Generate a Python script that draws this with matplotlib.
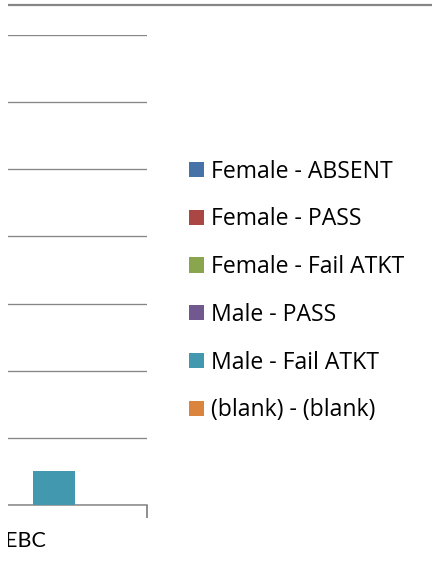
import matplotlib
matplotlib.use("Agg")
import matplotlib.pyplot as plt
import matplotlib.transforms as mtransforms
from matplotlib.lines import Line2D
from matplotlib.patches import Rectangle

categories = ['EBC']
series = ['Female - ABSENT', 'Female - PASS', 'Female - Fail ATKT',
          'Male - PASS', 'Male - Fail ATKT', '(blank) - (blank)']
values = {
    'Female - ABSENT': [0],
    'Female - PASS': [0],
    'Female - Fail ATKT': [0],
    'Male - PASS': [0],
    'Male - Fail ATKT': [1],
    '(blank) - (blank)': [0],
}
colors = ['#4572A7', '#AA4643', '#89A54E', '#71588F', '#4198AF', '#DB843D']

plt.rcParams['font.family'] = ['Lato', 'DejaVu Sans']

W, H = 432, 571
fig = plt.figure(figsize=(W / 100, H / 100), dpi=100)

# plot area: right edge at 147px, bottom 505px, top 35px, one category 312px wide
cat_w = 312
ax = fig.add_axes([(147 - cat_w) / W, (H - 505) / H, cat_w / W, 470 / H])

bw = 42 / cat_w
handles = []
for i, s in enumerate(series):
    xs = [k + (i - 2.5) * bw for k in range(len(categories))]
    b = ax.bar(xs, values[s], width=bw, color=colors[i], label=s, zorder=3)
    handles.append(b)

ax.set_xlim(-0.5, 0.5)
ax.set_ylim(0, 14)
ax.set_yticks(range(0, 15, 2))
ax.yaxis.grid(True, color='#868686', linewidth=0.95)
ax.tick_params(axis='y', length=0, labelleft=False)
for sp in ['left', 'right', 'top']:
    ax.spines[sp].set_visible(False)
ax.spines['bottom'].set_color('#868686')
ax.spines['bottom'].set_linewidth(1.1)

ax.set_xticks(range(len(categories)))
ax.set_xticklabels(categories, fontsize=15.5)
ax.tick_params(axis='x', length=0, pad=18.5)
off = mtransforms.ScaledTranslation(0.345, 0, fig.dpi_scale_trans)
for lab in ax.get_xticklabels():
    lab.set_transform(lab.get_transform() + off)
ax.set_xticks([0.5], minor=True)
ax.tick_params(axis='x', which='minor', length=9, width=1.3, color='#868686')

fig.legend(handles=handles, labels=series, loc='center left',
           bbox_to_anchor=(189 / W, 1 - 291 / H), frameon=False,
           prop={'family': ['Open Sans', 'DejaVu Sans'], 'size': 16.6},
           handlelength=0.66, handleheight=0.64,
           handletextpad=0.3, labelspacing=1.03, borderpad=0, borderaxespad=0)

fig.add_artist(Line2D([8 / W, 1], [1 - 5 / H, 1 - 5 / H], transform=fig.transFigure,
                      color='#868686', linewidth=1.6))
fig.add_artist(Rectangle((0, 0), 7.5 / W, 1, transform=fig.transFigure,
                         facecolor='white', edgecolor='none', zorder=10))

fig.savefig('out.png', dpi=100)
